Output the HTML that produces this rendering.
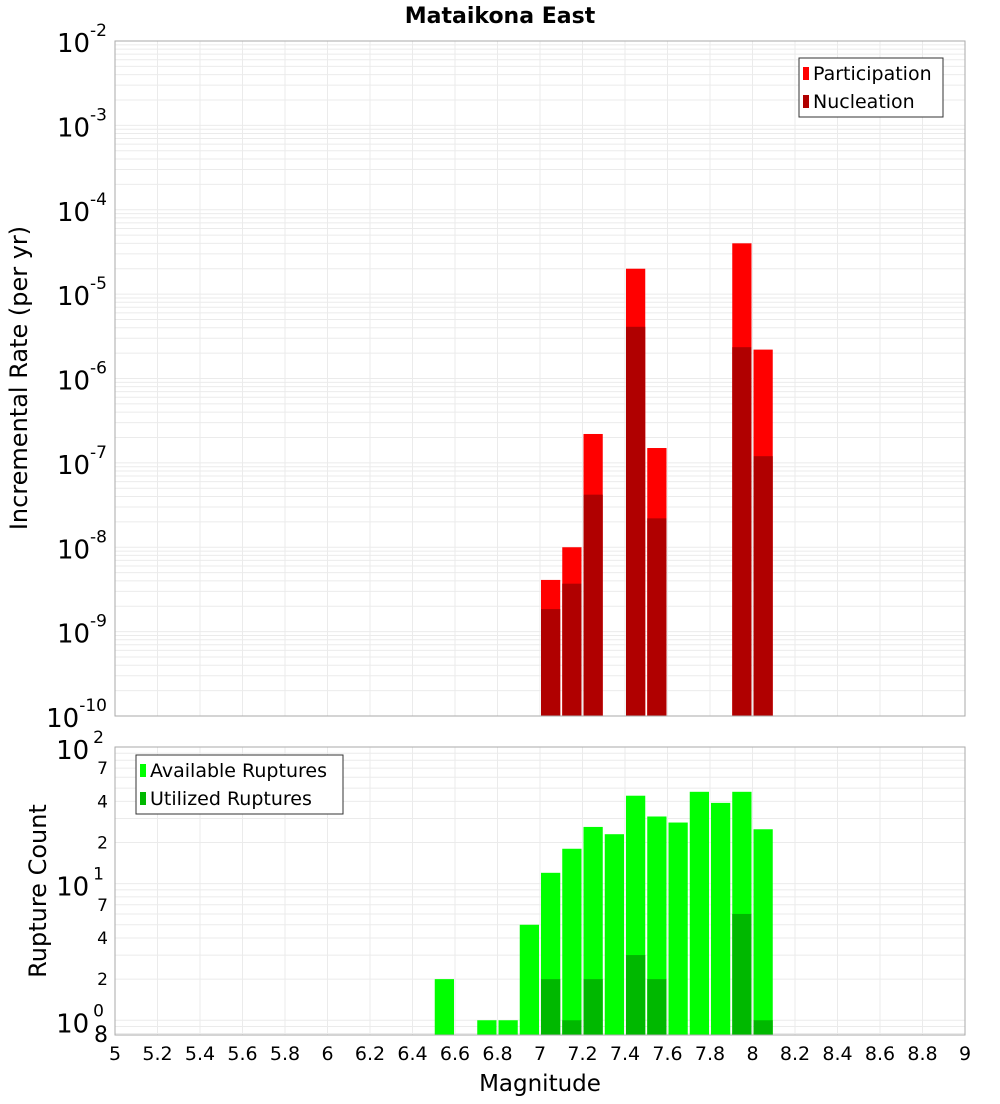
<!DOCTYPE html>
<html><head><meta charset="utf-8"><style>
body{margin:0;background:#fff;font-family:"DejaVu Sans","Liberation Sans",sans-serif}
svg text{font-family:"DejaVu Sans","Liberation Sans",sans-serif}
</style></head><body>
<svg id="c" width="1000" height="1100" xmlns="http://www.w3.org/2000/svg">
<text x="500" y="23" text-anchor="middle" font-size="22" font-weight="bold">Mataikona East</text>
</svg>
<script>
const mags=[6.55,6.75,6.85,6.95,7.05,7.15,7.25,7.35,7.45,7.55,7.65,7.75,7.85,7.95,8.05];
const partMags=[7.05,7.15,7.25,7.45,7.55,7.95,8.05];
const participation=[4.1e-9,1e-8,2.2e-7,2.0e-5,1.5e-7,4.0e-5,2.2e-6];
const nucleation=[1.85e-9,3.7e-9,4.2e-8,4.1e-6,2.2e-8,2.35e-6,1.2e-7];
const available=[2,1,1,5,12,18,26,23,44,31,28,47,39,47,25];
const utilized=[0,0,0,0,2,1,2,0,3,2,0,0,0,6,1];
const xTicks=[5,5.2,5.4,5.6,5.8,6,6.2,6.4,6.6,6.8,7,7.2,7.4,7.6,7.8,8,8.2,8.4,8.6,8.8,9];
const topExps=[-10,-9,-8,-7,-6,-5,-4,-3,-2];
const botMinor=[2,4,7,20,40,70];

const NS="http://www.w3.org/2000/svg";
const svg=document.getElementById('c');
function el(t,a,p){const e=document.createElementNS(NS,t);for(const k in a)e.setAttribute(k,a[k]);(p||svg).appendChild(e);return e;}
const X0=115,X1=965;
const xs=m=>X0+(m-5)/4*(X1-X0);
const T0=41,T1=716;
const yT=v=>T1-(Math.log10(v)+10)/8*(T1-T0);
const B0=747,B1=1035,bMin=Math.log10(0.78);
const yB=v=>B1-(Math.log10(v)-bMin)/(2-bMin)*(B1-B0);
const bw=(X1-X0)/40;

const gT=el('g',{});


for(let e=-10;e<-2;e++)for(let k=1;k<10;k++){const y=yT(k*Math.pow(10,e));el('line',{x1:X0,x2:X1,y1:y,y2:y,stroke:'#ebebeb','stroke-width':1},gT);}
const gB=el('g',{});


for(let e=-1;e<2;e++)for(let k=1;k<10;k++){const v=k*Math.pow(10,e);if(v<0.78)continue;const y=yB(v);el('line',{x1:X0,x2:X1,y1:y,y2:y,stroke:'#ebebeb','stroke-width':1},gB);}
xTicks.forEach(t=>{const x=xs(t);el('line',{x1:x,x2:x,y1:T0,y2:T1,stroke:'#ebebeb'},gT);el('line',{x1:x,x2:x,y1:B0,y2:B1,stroke:'#ebebeb'},gB);});

partMags.forEach((m,i)=>{
 const x=xs(m)-bw/2+1;
 const p=el('rect',{x:x,y:yT(participation[i]),width:bw-2,height:T1-yT(participation[i]),fill:'#ff0000'});
 
 
 const n=el('rect',{x:x,y:yT(nucleation[i]),width:bw-2,height:T1-yT(nucleation[i]),fill:'#b00000'});
 
 
});
mags.forEach((m,i)=>{
 const x=xs(m)-bw/2+1;
 if(available[i]>0){const a=el('rect',{x:x,y:yB(available[i]),width:bw-2,height:B1-yB(available[i]),fill:'#00ff00'});
 
 }
 if(utilized[i]>0){const u=el('rect',{x:x,y:yB(utilized[i]),width:bw-2,height:B1-yB(utilized[i]),fill:'#00b800'});
 
 }
});
el('rect',{x:X0,y:T0,width:X1-X0,height:T1-T0,fill:'none',stroke:'#aaa'});
el('rect',{x:X0,y:B0,width:X1-X0,height:B1-B0,fill:'none',stroke:'#aaa'});

topExps.forEach(e=>{const y=yT(Math.pow(10,e));
 const t=el('text',{x:107,y:y+11,'text-anchor':'end','font-size':26});
 
 
 t.textContent='10';
 const s=el('tspan',{dy:-16,'font-size':17});s.textContent=String(e);t.appendChild(s);
});
[[2,'2'],[1,'1'],[0,'0']].forEach(([e,s])=>{const y=yB(Math.pow(10,e));
 const t=el('text',{x:104,y:y+12,'text-anchor':'end','font-size':26});
 
 
 t.textContent='10';
 const sp=el('tspan',{dx:4,dy:-16,'font-size':17});sp.textContent=s;t.appendChild(sp);
});
botMinor.forEach(v=>{const t=el('text',{x:108,y:yB(v)+6,'text-anchor':'end','font-size':17});
 
 
 t.textContent=String(v>=10?v/10:v);});
const t8=el('text',{x:108,y:1042,'text-anchor':'end','font-size':22});
t8.textContent='8';
xTicks.forEach(v=>{const t=el('text',{x:xs(v),y:1060,'text-anchor':'middle','font-size':19});
 
 
 t.textContent=String(v);});
const xt=el('text',{x:540,y:1091,'text-anchor':'middle','font-size':23});


xt.textContent='Magnitude';
const yt=el('text',{x:0,y:0,'text-anchor':'middle','font-size':24,transform:'translate(27,378) rotate(-90)'});


yt.textContent='Incremental Rate (per yr)';
const yb=el('text',{x:0,y:0,'text-anchor':'middle','font-size':24,transform:'translate(46,891) rotate(-90)'});


yb.textContent='Rupture Count';

function legend(x,y,w,items,name){
 const g=el('g',{});
 
 
 el('rect',{x:x,y:y,width:w,height:59,fill:'#fff',stroke:'#333'},g);
 items.forEach(([c,l],i)=>{
  el('rect',{x:x+4,y:y+9+i*28,width:6,height:13,fill:c},g);
  const t=el('text',{x:x+14,y:y+22+i*28,'font-size':19},g);t.textContent=l;
 });
}
legend(799,58,144,[['#ff0000','Participation'],['#b00000','Nucleation']],'top-legend');
legend(136,755,207,[['#00ff00','Available Ruptures'],['#00b800','Utilized Ruptures']],'bottom-legend');
</script>
</body></html>
